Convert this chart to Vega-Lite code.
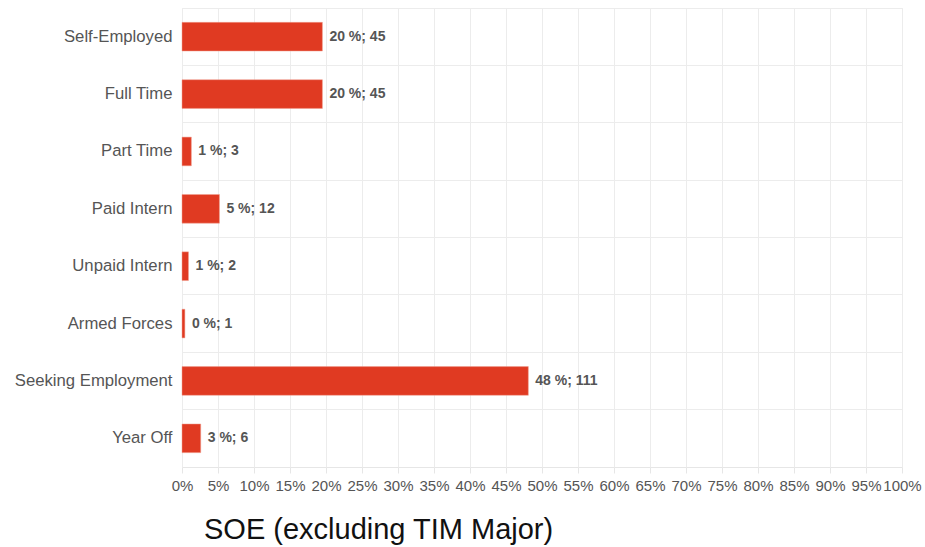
{
  "$schema": "https://vega.github.io/schema/vega-lite/v6.json",
  "width": 720,
  "height": 459,
  "autosize": "none",
  "padding": {"left": 182, "top": 8, "right": 23, "bottom": 80},
  "background": "white",
  "config": {
    "view": {"stroke": "#e6e6e6", "strokeWidth": 1},
    "font": "Liberation Sans"
  },
  "title": {
    "text": "SOE (excluding TIM Major)",
    "orient": "bottom",
    "anchor": "start",
    "frame": "group",
    "dx": 22,
    "offset": 23,
    "fontSize": 29,
    "fontWeight": "normal",
    "color": "#111111",
    "font": "Liberation Sans"
  },
  "data": {
    "values": [
      {"status": "Self-Employed", "pct": 19.5, "count": 45, "label": "20 %; 45"},
      {"status": "Full Time", "pct": 19.5, "count": 45, "label": "20 %; 45"},
      {"status": "Part Time", "pct": 1.3, "count": 3, "label": "1 %; 3"},
      {"status": "Paid Intern", "pct": 5.2, "count": 12, "label": "5 %; 12"},
      {"status": "Unpaid Intern", "pct": 0.9, "count": 2, "label": "1 %; 2"},
      {"status": "Armed Forces", "pct": 0.4, "count": 1, "label": "0 %; 1"},
      {"status": "Seeking Employment", "pct": 48.1, "count": 111, "label": "48 %; 111"},
      {"status": "Year Off", "pct": 2.6, "count": 6, "label": "3 %; 6"}
    ]
  },
  "encoding": {
    "y": {
      "field": "status",
      "type": "nominal",
      "sort": null,
      "scale": {"paddingInner": 0.5, "paddingOuter": 0.25},
      "axis": {
        "title": null,
        "domain": false,
        "ticks": false,
        "labelFontSize": 16.7,
        "labelColor": "#555555",
        "labelPadding": 10,
        "grid": true,
        "gridColor": "#ececec",
        "bandPosition": -0.5
      }
    },
    "x": {
      "field": "pct",
      "type": "quantitative",
      "scale": {"domain": [0, 100], "nice": false},
      "axis": {
        "title": null,
        "values": [0,5,10,15,20,25,30,35,40,45,50,55,60,65,70,75,80,85,90,95,100],
        "labelExpr": "datum.value + '%'",
        "labelFontSize": 15,
        "labelColor": "#555555",
        "labelPadding": 5,
        "labelOverlap": false,
        "labelFlush": false,
        "domain": false,
        "tickColor": "#e6e6e6",
        "tickSize": 6,
        "gridColor": "#ececec"
      }
    }
  },
  "layer": [
    {
      "mark": {"type": "bar", "color": "#e03a22", "stroke": "#f0a090", "strokeWidth": 0.5}
    },
    {
      "mark": {"type": "text", "align": "left", "dx": 7, "fontSize": 14, "fontWeight": "bold", "color": "#555555"},
      "encoding": {"text": {"field": "label"}}
    }
  ]
}
